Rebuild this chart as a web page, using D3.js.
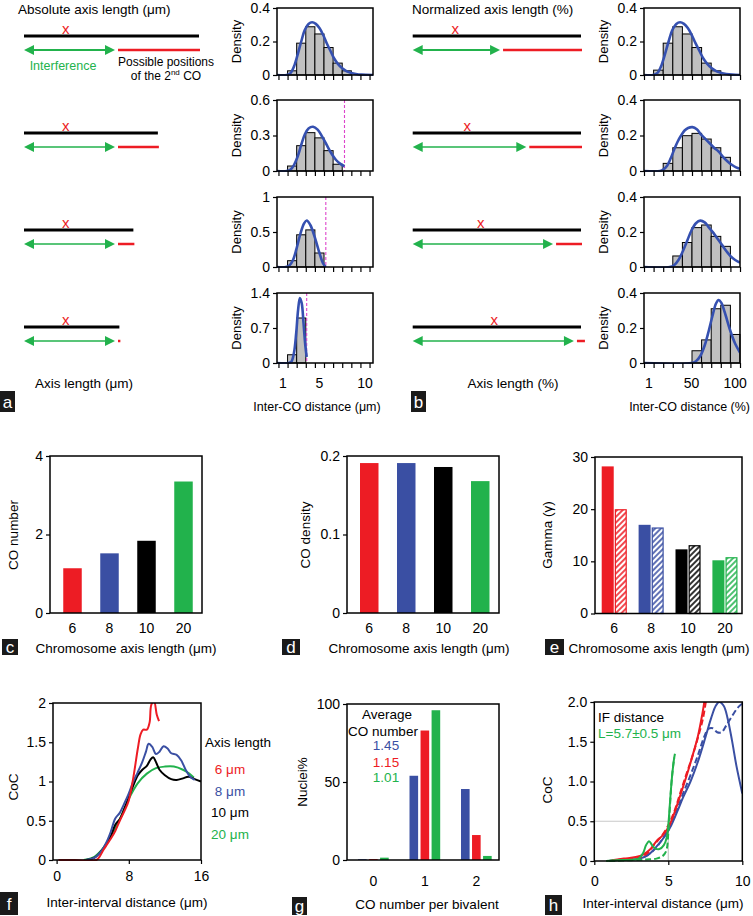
<!DOCTYPE html>
<html><head><meta charset="utf-8">
<script src="https://cdn.jsdelivr.net/npm/d3@7"></script>
<style>
body{margin:0;background:#fff}
svg{display:block}
text{font-family:"Liberation Sans",Arial,Helvetica,sans-serif}
</style>
</head><body>
<svg id="chart" width="753" height="916"></svg>
<script>
// ---------------- DATA ----------------
// Panel a: absolute axis length schematic (µm units of schematic)
const aAxisLen = [20, 15.3, 12.5, 10.9];
const aCOpos   = [4.77, 4.77, 4.77, 4.77];
const aInterf  = [10.4, 10.4, 10.4, 10.4];
// Panel b: normalized schematic (%)
const bCOpos  = [25.3, 32.4, 40.4, 48.5];
const bInterf = [51.9, 67.5, 83.4, 95.8];

// Panel a histograms (inter-CO distance, µm), bins of 1 µm starting at 1.5
const aBinStart = [1.5, 1.5, 1.5, 1.5];
const aHist = [
  [0.025, 0.19, 0.288, 0.245, 0.164, 0.071, 0.025],
  [0.042, 0.214, 0.324, 0.28, 0.172, 0.057],
  [0.09, 0.46, 0.53, 0.2],
  [0.165, 0.9]
];
const aYMax = [0.4, 0.6, 1, 1.4];
const aYTicks = [[0, 0.2, 0.4], [0, 0.3, 0.6], [0, 0.5, 1], [0, 0.7, 1.4]];
const aLimit = [null, 7.75, 5.7, 3.6];
const aCurves = [
  [[0.34,0],[1.4,0],[1.8,0.01],[2.2,0.05],[2.6,0.12],[3.0,0.2],[3.4,0.27],[3.8,0.305],[4.2,0.315],[4.6,0.305],[5.0,0.28],[5.4,0.24],[5.8,0.19],[6.2,0.145],[6.6,0.1],[7.0,0.068],[7.5,0.04],[8.0,0.022],[8.5,0.012],[9.0,0.006],[9.6,0.002],[10.88,0]],
  [[0.34,0],[1.4,0],[1.8,0.01],[2.2,0.05],[2.6,0.12],[3.0,0.22],[3.4,0.31],[3.8,0.36],[4.3,0.374],[4.8,0.35],[5.3,0.29],[5.8,0.22],[6.3,0.15],[6.8,0.095],[7.3,0.06],[7.75,0.04]],
  [[0.34,0],[1.3,0],[1.7,0.02],[2.1,0.1],[2.5,0.27],[2.9,0.47],[3.3,0.62],[3.6,0.665],[4.0,0.6],[4.5,0.42],[5.0,0.2],[5.4,0.05],[5.7,0]],
  [[0.34,0],[1.6,0],[1.9,0.02],[2.2,0.2],[2.45,0.6],[2.65,1.05],[2.85,1.3],[3.05,1.2],[3.25,0.8],[3.45,0.35],[3.6,0.12]]
];
const aXTicks = [1, 5, 10];
const aMinor = [0.5,1.5,2.5,3.5,4.5,5.5,6.5,7.5,8.5,9.5,10.5];

// Panel b histograms (inter-CO distance, %), bins of 11 %
const bBinStart = [6.5, 17.5, 28.5, 50.5];
const bHist = [
  [0.029, 0.19, 0.288, 0.245, 0.164, 0.071, 0.025],
  [0.043, 0.131, 0.199, 0.212, 0.18, 0.131, 0.077],
  [0.063, 0.14, 0.225, 0.24, 0.175, 0.118],
  [0.07, 0.132, 0.31, 0.33, 0.163]
];
const bYTicks = [0, 0.2, 0.4];
const bCurves = [
  [[-4.5,0],[6,0],[10.5,0.01],[14.9,0.05],[19.3,0.12],[23.7,0.2],[28.1,0.27],[32.5,0.305],[36.9,0.315],[41.3,0.305],[45.7,0.28],[50.1,0.24],[54.5,0.19],[58.9,0.145],[63.3,0.1],[67.7,0.068],[73.2,0.04],[78.7,0.022],[84.2,0.012],[89.7,0.006],[96.3,0.002],[105.5,0]],
  [[-4.5,0],[14,0],[18,0.01],[22,0.03],[26,0.07],[30,0.12],[34,0.165],[38,0.2],[42,0.228],[46,0.242],[51,0.247],[56,0.235],[61,0.205],[66,0.18],[71,0.155],[76,0.13],[81,0.11],[86,0.08],[91,0.055],[96,0.035],[101,0.02],[105.5,0.012]],
  [[-4.5,0],[25,0],[30,0.01],[35,0.04],[40,0.09],[45,0.15],[50,0.21],[55,0.25],[60,0.265],[65,0.255],[70,0.225],[75,0.195],[80,0.16],[85,0.125],[90,0.09],[95,0.06],[100,0.04],[105.5,0.025]],
  [[-4.5,0],[50,0],[55,0.01],[60,0.04],[65,0.1],[70,0.19],[74,0.27],[78,0.34],[81,0.36],[84,0.345],[88,0.29],[94,0.19],[100,0.11],[105.5,0.06]]
];
const bXTicks = [1, 50, 100];
const bMinor = [-4.5,6.5,17.5,28.5,39.5,50.5,61.5,72.5,83.5,94.5,105.5];

// Panels c, d, e
const lengthCats = ["6", "8", "10", "20"];
const coNumber  = [1.14, 1.52, 1.84, 3.35];
const coDensity = [0.191, 0.191, 0.186, 0.168];
const gammaSolid   = [28.2, 17.0, 12.3, 10.2];
const gammaHatched = [20.0, 16.5, 13.1, 10.8];

// Panel f: CoC curves [distance µm, CoC]
const f6 = [[0.2,0],[2,0],[4.4,0],[4.8,0.05],[5.2,0.13],[5.6,0.2],[6,0.27],[6.5,0.37],[7,0.5],[7.5,0.62],[8,0.76],[8.5,1.05],[9,1.42],[9.3,1.6],[9.6,1.66],[10,1.66],[10.3,1.75],[10.5,1.98],[10.8,2.02],[11.1,1.85],[11.35,1.77]];
const f8 = [[3.2,0],[4.2,0.03],[5,0.12],[5.5,0.22],[6,0.36],[6.5,0.53],[7,0.6],[7.5,0.72],[8,0.85],[8.5,1.0],[9,1.12],[9.5,1.25],[9.9,1.38],[10.2,1.48],[10.6,1.44],[11,1.35],[11.4,1.38],[11.85,1.45],[12.3,1.42],[12.7,1.36],[13.3,1.34],[13.8,1.27],[14.3,1.15],[14.8,1.06],[15.3,1.02]];
const f10 = [[3.3,0],[4.2,0.03],[5,0.12],[5.5,0.2],[6,0.3],[6.5,0.45],[7,0.52],[7.5,0.65],[8,0.8],[8.5,0.95],[9,1.08],[9.5,1.15],[10,1.2],[10.4,1.28],[10.7,1.31],[11,1.25],[11.4,1.15],[12,1.08],[12.7,1.03],[13.3,1.02],[14,1.04],[14.6,1.06],[15.3,1.03],[16,1.0]];
const f20 = [[3,0],[4,0.03],[5,0.13],[6,0.3],[7,0.52],[8,0.78],[9,0.98],[10,1.1],[11,1.17],[12,1.19],[13,1.19],[14,1.15],[14.7,1.1],[15.2,1.05]];
const fLegend = ["6 μm", "8 μm", "10 μm", "20 μm"];

// Panel g
const gCats = ["0", "1", "2"];
const g8  = [0.5, 54, 45.5];
const g6  = [0.6, 83, 16];
const g20 = [1.5, 96, 2.6];
const gAverage = ["1.45", "1.15", "1.01"];

// Panel h: CoC curves
const hGreen = [[0.8,0],[1.5,0.01],[2.5,0.015],[3.0,0.03],[3.3,0.1],[3.5,0.2],[3.7,0.25],[3.9,0.2],[4.1,0.16],[4.4,0.15],[4.7,0.2],[4.9,0.3],[5.0,0.45],[5.1,0.7],[5.2,0.95],[5.3,1.15],[5.4,1.3],[5.45,1.35]];
const hGreenD = [[1.0,0],[2.5,0.01],[3.5,0.02],[4.2,0.03],[4.6,0.06],[4.85,0.12],[5.0,0.35],[5.1,0.65],[5.2,0.95],[5.3,1.15],[5.4,1.3]];
const hRed = [[1.2,0.01],[2,0.03],[2.8,0.05],[3.3,0.08],[3.8,0.15],[4.2,0.25],[4.6,0.32],[5.0,0.42],[5.4,0.6],[5.8,0.82],[6.2,1.05],[6.6,1.3],[7.0,1.57],[7.3,1.85],[7.45,2.02]];
const hRedD = [[1.0,0],[2,0.02],[3,0.04],[3.6,0.1],[4.1,0.22],[4.5,0.3],[5.0,0.45],[5.4,0.62],[5.8,0.85],[6.2,1.08],[6.6,1.3],[7.0,1.55],[7.35,1.8],[7.55,2.02]];
const hBlue = [[1.0,0],[2,0.02],[3,0.03],[3.6,0.07],[4.2,0.18],[4.8,0.32],[5.2,0.45],[5.6,0.62],[6.0,0.8],[6.5,1.0],[7.0,1.25],[7.5,1.55],[7.9,1.8],[8.2,1.95],[8.45,2.0],[8.75,1.95],[9.0,1.8],[9.3,1.52],[9.6,1.2],[10,0.85]];
const hBlueD = [[1.0,0],[2,0.02],[3,0.03],[3.8,0.1],[4.4,0.22],[5.0,0.4],[5.5,0.6],[6.0,0.85],[6.5,1.08],[7.0,1.33],[7.4,1.55],[7.7,1.66],[8.0,1.67],[8.3,1.62],[8.6,1.62],[8.9,1.7],[9.3,1.82],[9.7,1.93],[10,1.98]];

// ---------------- STYLE ----------------
const RED = "#ed1c24", BLUE = "#3a4fa3", GREEN = "#22b24c", BLACK = "#000", GRAY = "#c0c0c0", CURVE = "#3550b0", MAG = "#dd44cc";
const FONT = '"Liberation Sans", Arial, Helvetica, sans-serif';
const lenColors = [RED, BLUE, BLACK, GREEN];

const svg = d3.select("#chart");
const defs = svg.append("defs");
let clipN = 0;
function clip(x0, y0, x1, y1) {
  const id = "clip" + (clipN++);
  defs.append("clipPath").attr("id", id).append("rect").attr("x", x0).attr("y", y0).attr("width", x1 - x0).attr("height", y1 - y0);
  return "url(#" + id + ")";
}
lenColors.forEach((c, i) => {
  const p = defs.append("pattern").attr("id", "hatch" + i).attr("patternUnits", "userSpaceOnUse")
    .attr("width", 4).attr("height", 4).attr("patternTransform", "rotate(45)");
  p.append("rect").attr("width", 4).attr("height", 4).attr("fill", "#fff");
  p.append("line").attr("x1", 1).attr("y1", 0).attr("x2", 1).attr("y2", 4).attr("stroke", c).attr("stroke-width", 1.6);
});

function txt(x, y, s, opt = {}) {
  const t = svg.append("text").attr("x", x).attr("y", y)
    .attr("font-size", opt.size || 13).attr("fill", opt.fill || "#000")
    .attr("text-anchor", opt.anchor || "start");
  if (opt.rot) t.attr("transform", `rotate(-90,${x},${y})`);
  t.text(s);
  return t;
}
function letterBox(x, y, w, h, letter) {
  svg.append("rect").attr("x", x).attr("y", y).attr("width", w).attr("height", h).attr("fill", "#1a1a1a");
  svg.append("text").attr("x", x + w / 2).attr("y", y + h / 2).attr("dy", "0.36em")
    .attr("text-anchor", "middle").attr("fill", "#fff").attr("font-size", 17).text(letter);
}
function frame(x0, x1, y0, y1) {
  svg.append("rect").attr("x", x0).attr("y", y0).attr("width", x1 - x0).attr("height", y1 - y0)
    .attr("fill", "none").attr("stroke", "#000").attr("stroke-width", 1.5);
}
function styleAxis(g, size) {
  g.select(".domain").remove();
  g.selectAll("text").attr("font-size", size || 14).attr("font-family", FONT).attr("fill", "#000");
  g.selectAll("line").attr("stroke", "#000").attr("stroke-width", 1.2);
}
function yAxis(x, y, ticks, fmt, size) {
  const g = svg.append("g").attr("transform", `translate(${x},0)`)
    .call(d3.axisLeft(y).tickValues(ticks).tickSize(4).tickPadding(3).tickFormat(fmt || (d => d)));
  styleAxis(g, size);
  return g;
}
function xAxis(yPos, x, ticks, tickSize, pad, fmt, size) {
  const ax = d3.axisBottom(x).tickSize(tickSize).tickPadding(pad);
  if (ticks) ax.tickValues(ticks);
  if (fmt) ax.tickFormat(fmt);
  const g = svg.append("g").attr("transform", `translate(0,${yPos})`).call(ax);
  styleAxis(g, size);
  return g;
}

// ---------------- HISTOGRAMS ----------------
function hist(xs, top, bottom, yMax, yTicks, start, w, vals, curve, limit, minor) {
  const y = d3.scaleLinear().domain([0, yMax]).range([bottom, top]);
  const [x0, x1] = xs.range();
  const cp = clip(x0, top, x1, bottom + 1);
  svg.append("g").selectAll("rect").data(vals).join("rect")
    .attr("x", (d, i) => xs(start + i * w))
    .attr("width", (d, i) => xs(start + (i + 1) * w) - xs(start + i * w))
    .attr("y", d => y(d)).attr("height", d => y(0) - y(d))
    .attr("fill", GRAY).attr("stroke", "#000").attr("stroke-width", 1);
  if (limit != null) {
    svg.append("line").attr("x1", xs(limit)).attr("x2", xs(limit)).attr("y1", top).attr("y2", bottom)
      .attr("stroke", MAG).attr("stroke-width", 1.1).attr("stroke-dasharray", "3,2");
  }
  svg.append("path").datum(curve).attr("clip-path", cp)
    .attr("d", d3.line().x(d => xs(d[0])).y(d => y(d[1])).curve(d3.curveCatmullRom.alpha(0.5)))
    .attr("fill", "none").attr("stroke", CURVE).attr("stroke-width", 2.6);
  frame(x0, x1, top, bottom);
  yAxis(x0, y, yTicks, d => d, 14);
  xAxis(bottom, xs, minor, 5, 0, () => "");
  txt(x0 - 36, (top + bottom) / 2, "Density", { rot: true, anchor: "middle", size: 13 });
}

const histTops = [8, 100, 197, 293];
const histBottoms = [75, 171, 267, 363];

const xa = d3.scaleLinear().domain([0.34, 10.88]).range([277, 373]);
const xb = d3.scaleLinear().domain([-4.5, 105.5]).range([644, 740]);
for (let i = 0; i < 4; i++) {
  hist(xa, histTops[i], histBottoms[i], aYMax[i], aYTicks[i], aBinStart[i], 1, aHist[i], aCurves[i], aLimit[i], aMinor);
  hist(xb, histTops[i], histBottoms[i], 0.4, bYTicks, bBinStart[i], 11, bHist[i], bCurves[i], null, bMinor);
}
aXTicks.forEach(v => txt(xa(v), 388, v, { anchor: "middle", size: 14 }));
bXTicks.forEach(v => txt(xb(v), 388, v, { anchor: "middle", size: 14 }));
txt(317, 411, "Inter-CO distance (μm)", { anchor: "middle", size: 12.5 });
txt(750, 411, "Inter-CO distance (%)", { anchor: "end", size: 12.5 });

// ---------------- SCHEMATICS ----------------
const blackY = [36, 133, 230, 327];
const arrowY = [50, 147, 244, 341];
function arrow(x1, x2, y, sw) {
  svg.append("line").attr("x1", x1 + 6).attr("x2", x2 - 6).attr("y1", y).attr("y2", y)
    .attr("stroke", GREEN).attr("stroke-width", sw);
  svg.append("path").attr("d", `M${x1},${y} L${x1 + 10},${y - 5} L${x1 + 10},${y + 5} Z`).attr("fill", GREEN);
  svg.append("path").attr("d", `M${x2},${y} L${x2 - 10},${y - 5} L${x2 - 10},${y + 5} Z`).attr("fill", GREEN);
}
function schematic(sx, len, co, intf, redEndFn) {
  for (let i = 0; i < 4; i++) {
    svg.append("line").attr("x1", sx(0)).attr("x2", sx(len[i])).attr("y1", blackY[i]).attr("y2", blackY[i])
      .attr("stroke", BLACK).attr("stroke-width", 3);
    txt(sx(co[i]), blackY[i] - 2, "x", { anchor: "middle", size: 15, fill: RED });
    arrow(sx(0), sx(intf[i]), arrowY[i], i === 0 ? 2 : 1.6);
    const rs = sx(intf[i]) + 3;
    const re = redEndFn(i);
    svg.append("line").attr("x1", rs).attr("x2", re).attr("y1", arrowY[i]).attr("y2", arrowY[i])
      .attr("stroke", RED).attr("stroke-width", 2.5);
  }
}
const sxa = d3.scaleLinear().domain([0, 20]).range([24, 199]);
schematic(sxa, aAxisLen, aCOpos, aInterf, i => sxa(aAxisLen[i]) + 1);
const sxb = d3.scaleLinear().domain([0, 100]).range([412.7, 581]);
schematic(sxb, [100, 100, 100, 100], bCOpos, bInterf, i => Math.max(sxb(100) + 1, sxb(bInterf[i]) + 11));

txt(18, 14, "Absolute axis length (μm)", { size: 13.5 });
txt(412, 14, "Normalized axis length (%)", { size: 13.5 });
txt(63, 70, "Interference", { anchor: "middle", size: 12.5, fill: GREEN });
txt(166, 66, "Possible positions", { anchor: "middle", size: 12 });
const t2 = svg.append("text").attr("x", 166).attr("y", 80).attr("text-anchor", "middle").attr("font-size", 12);
t2.append("tspan").text("of the 2");
t2.append("tspan").attr("font-size", 8).attr("dy", -5).text("nd");
t2.append("tspan").attr("dy", 5).text(" CO");
txt(84, 388, "Axis length (μm)", { anchor: "middle", size: 13.5 });
txt(513, 388, "Axis length (%)", { anchor: "middle", size: 13.5 });
letterBox(0, 391, 15, 21, "a");
letterBox(411, 391, 15, 21, "b");

// ---------------- PANEL c ----------------
const xc = d3.scaleBand().domain(lengthCats).range([54, 202]).paddingInner(0.5).paddingOuter(0.25);
const yc = d3.scaleLinear().domain([0, 4]).range([613, 456]);
svg.append("g").selectAll("rect").data(coNumber).join("rect")
  .attr("x", (d, i) => xc(lengthCats[i])).attr("width", xc.bandwidth())
  .attr("y", d => yc(d)).attr("height", d => yc(0) - yc(d)).attr("fill", (d, i) => lenColors[i]);
frame(50, 202, 456, 613);
yAxis(50, yc, [0, 2, 4]);
xAxis(613, xc, null, 0, 10);
txt(18, 535, "CO number", { rot: true, anchor: "middle", size: 13.5 });
txt(126, 653, "Chromosome axis length (μm)", { anchor: "middle", size: 13.5 });
letterBox(2, 639, 16, 16, "c");

// ---------------- PANEL d ----------------
const xd = d3.scaleBand().domain(lengthCats).range([350.75, 498.75]).paddingInner(0.5).paddingOuter(0.25);
const yd = d3.scaleLinear().domain([0, 0.2]).range([613, 456]);
svg.append("g").selectAll("rect").data(coDensity).join("rect")
  .attr("x", (d, i) => xd(lengthCats[i])).attr("width", xd.bandwidth())
  .attr("y", d => yd(d)).attr("height", d => yd(0) - yd(d)).attr("fill", (d, i) => lenColors[i]);
frame(347, 499, 456, 613);
yAxis(347, yd, [0, 0.1, 0.2]);
xAxis(613, xd, null, 0, 10);
txt(310, 535, "CO density", { rot: true, anchor: "middle", size: 13.5 });
txt(419, 653, "Chromosome axis length (μm)", { anchor: "middle", size: 13.5 });
letterBox(282, 639, 18, 16, "d");

// ---------------- PANEL e ----------------
const xe = d3.scaleBand().domain(lengthCats).range([595.8, 743.4]).paddingInner(0.32).paddingOuter(0.16);
const xeSub = d3.scaleBand().domain(["solid", "hatched"]).range([0, xe.bandwidth()]).paddingInner(0.08);
const ye = d3.scaleLinear().domain([0, 30]).range([613.5, 457]);
svg.append("g").selectAll("rect").data(gammaSolid).join("rect")
  .attr("x", (d, i) => xe(lengthCats[i]) + xeSub("solid")).attr("width", xeSub.bandwidth())
  .attr("y", d => ye(d)).attr("height", d => ye(0) - ye(d)).attr("fill", (d, i) => lenColors[i]);
svg.append("g").selectAll("rect").data(gammaHatched).join("rect")
  .attr("x", (d, i) => xe(lengthCats[i]) + xeSub("hatched") + 0.6).attr("width", xeSub.bandwidth() - 1.2)
  .attr("y", d => ye(d) + 0.6).attr("height", d => ye(0) - ye(d) - 0.6)
  .attr("fill", (d, i) => `url(#hatch${i})`).attr("stroke", (d, i) => lenColors[i]).attr("stroke-width", 1.2);
frame(595, 742, 457, 613.5);
yAxis(595, ye, [0, 10, 20, 30]);
xAxis(613.5, xe, null, 0, 10);
txt(552, 535, "Gamma (γ)", { rot: true, anchor: "middle", size: 13.5 });
txt(659, 653, "Chromosome axis length (μm)", { anchor: "middle", size: 13.5 });
letterBox(545, 639, 19, 16, "e");

// ---------------- PANEL f ----------------
const xf = d3.scaleLinear().domain([-0.4, 16]).range([53, 201]);
const yf = d3.scaleLinear().domain([0, 2]).range([860, 703]);
const cpf = clip(53, 703, 201.5, 861);
const lineF = d3.line().x(d => xf(d[0])).y(d => yf(d[1])).curve(d3.curveCatmullRom.alpha(0.5));
[[f20, GREEN], [f10, BLACK], [f8, BLUE], [f6, RED]].forEach(([data, col]) => {
  svg.append("path").datum(data).attr("d", lineF).attr("clip-path", cpf)
    .attr("fill", "none").attr("stroke", col).attr("stroke-width", 2);
});
frame(53, 201, 703, 860);
yAxis(53, yf, [0, 0.5, 1, 1.5, 2]);
xAxis(860, xf, [0, 8, 16], 4, 7);
txt(18, 787, "CoC", { rot: true, anchor: "middle", size: 13.5 });
txt(127, 907, "Inter-interval distance (μm)", { anchor: "middle", size: 13.5 });
txt(205, 747, "Axis length", { size: 13.5 });
fLegend.forEach((s, i) => txt(230, [774, 796, 817, 839][i], s, { anchor: "middle", size: 13.5, fill: lenColors[i] }));
letterBox(0, 892, 18, 23, "f");

// ---------------- PANEL g ----------------
const xg = d3.scaleBand().domain(gCats).range([347, 502.7]).paddingInner(0.404).paddingOuter(0.214);
const xgSub = d3.scaleBand().domain(["8", "6", "20"]).range([0, xg.bandwidth()]).paddingInner(0.22);
const yg = d3.scaleLinear().domain([0, 100]).range([860, 704]);
[[g8, "8", BLUE], [g6, "6", RED], [g20, "20", GREEN]].forEach(([vals, key, col]) => {
  svg.append("g").selectAll("rect").data(vals).join("rect")
    .attr("x", (d, i) => xg(gCats[i]) + xgSub(key)).attr("width", xgSub.bandwidth())
    .attr("y", d => yg(d)).attr("height", d => yg(0) - yg(d)).attr("fill", col);
});
frame(347, 499, 704, 860);
yAxis(347, yg, [0, 50, 100]);
xAxis(860, xg, null, 0, 16);
txt(307, 782, "Nuclei%", { rot: true, anchor: "middle", size: 13.5 });
txt(427, 909, "CO number per bivalent", { anchor: "middle", size: 13.5 });
txt(387, 719, "Average", { anchor: "middle", size: 13.5 });
txt(383, 736, "CO number", { anchor: "middle", size: 13.5 });
gAverage.forEach((s, i) => txt(386, [750, 767, 782][i], s, { anchor: "middle", size: 13.5, fill: [BLUE, RED, GREEN][i] }));
letterBox(292, 897, 15, 18, "g");

// ---------------- PANEL h ----------------
const xh = d3.scaleLinear().domain([0, 10]).range([594.3, 742.3]);
const yh = d3.scaleLinear().domain([0, 2]).range([861, 702]);
const cph = clip(594.3, 702, 742.3, 862);
svg.append("line").attr("x1", xh(0)).attr("x2", xh(5)).attr("y1", yh(0.5)).attr("y2", yh(0.5)).attr("stroke", "#c8c8c8").attr("stroke-width", 1.2);
svg.append("line").attr("x1", xh(5)).attr("x2", xh(5)).attr("y1", yh(0.5)).attr("y2", yh(0)).attr("stroke", "#c8c8c8").attr("stroke-width", 1.2);
const lineH = d3.line().x(d => xh(d[0])).y(d => yh(d[1])).curve(d3.curveCatmullRom.alpha(0.5));
[[hBlue, BLUE, false], [hBlueD, BLUE, true], [hRed, RED, false], [hRedD, RED, true], [hGreen, GREEN, false], [hGreenD, GREEN, true]]
  .forEach(([data, col, dashed]) => {
    svg.append("path").datum(data).attr("d", lineH).attr("clip-path", cph)
      .attr("fill", "none").attr("stroke", col).attr("stroke-width", 2)
      .attr("stroke-dasharray", dashed ? "6,3" : null);
  });
frame(594.3, 742.3, 702, 861);
yAxis(594.3, yh, [0, 0.5, 1, 1.5, 2], d => d === 0 ? "0" : d.toFixed(1));
xAxis(861, xh, [0, 5, 10], 4, 11);
txt(552, 790, "CoC", { rot: true, anchor: "middle", size: 13.5 });
txt(663, 908, "Inter-interval distance (μm)", { anchor: "middle", size: 13.5 });
txt(598, 722, "IF distance", { size: 13.5 });
txt(598, 738, "L=5.7±0.5 μm", { size: 13.5, fill: GREEN });
letterBox(545, 895, 17, 20, "h");
</script>
</body></html>
